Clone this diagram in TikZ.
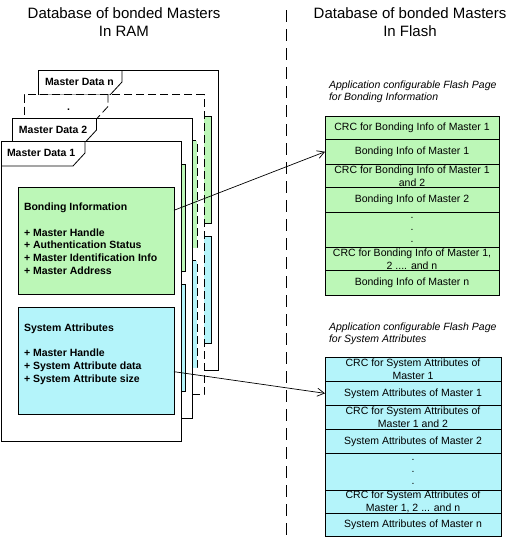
\documentclass[tikz,border=0pt]{standalone}
\usepackage{fontspec}
\setmainfont{Liberation Sans}
\usetikzlibrary{arrows.meta}
\definecolor{gfill}{RGB}{188,247,183}
\definecolor{cfill}{RGB}{180,244,250}
\newcommand\mdpage[6]{%
  \begin{scope}[shift={(#1,#2)},#3]
    \node[pagebox, anchor=north west] (#4) at (0,0) {};
    \draw (84,0) -- (84,12) -- (72,25) -- (0,25);
    \node[gbox, anchor=north west] (#4g) at (17,46) {};
    \node[cbox, anchor=north west] (#4c) at (17,166) {};
    \node[tablabel, anchor=base west] (#4l) at (#6,15.5) {#5};
  \end{scope}}
\begin{document}
\begin{tikzpicture}[x=1pt,y=-1pt,line width=0.8pt,
  every node/.style={inner sep=0pt,outer sep=0pt},
  pagebox/.style={draw,fill=white,minimum width=180pt,minimum height=300pt},
  gbox/.style={draw,fill=gfill,minimum width=156pt,minimum height=107pt},
  cbox/.style={draw,fill=cfill,minimum width=156pt,minimum height=107pt},
  tablabel/.style={font=\fontsize{10.5}{12.7}\selectfont\bfseries},
  boldtxt/.style={font=\fontsize{10.5}{12.7}\selectfont\bfseries,align=left},
  title/.style={font=\fontsize{15}{18}\selectfont,align=center},
  caption/.style={font=\fontsize{10.5}{12}\selectfont\itshape,align=left},
  grnrow/.style={draw,fill=gfill,minimum width=174pt,anchor=north west,align=center,font=\fontsize{10.5}{13}\selectfont},
  cyrow/.style={draw,fill=cfill,minimum width=176pt,anchor=north west,align=center,font=\fontsize{10.5}{13}\selectfont},
  dotrow/.style={font=\fontsize{10.5}{12}\selectfont},
  link/.style={line width=0.7pt,-{Straight Barb[length=7pt,width=8pt,line width=0.7pt]}},
  divider/.style={line width=0.8pt,dash pattern=on 12pt off 7pt},
  dashedpage/.style={dash pattern=on 8pt off 4pt}]
\useasboundingbox (0,0) rectangle (528,538);
% titles
\node[title,anchor=north] (tl) at (124,7.5) {Database of bonded Masters\\In RAM};
\node[title,anchor=north] (tr) at (410,7.5) {Database of bonded Masters\\In Flash};
% divider
\coordinate (divtop) at (286,10);
\coordinate (divbot) at (286,538);
\draw[divider] (divtop) -- (divbot);
% stacked pages
\mdpage{38}{70}{}{pn}{Master Data n}{7}
\mdpage{24}{94.5}{dashedpage}{pd}{.}{43}
\mdpage{12.5}{118}{}{ptwo}{Master Data 2}{6.5}
\mdpage{1}{141}{}{pone}{Master Data 1}{6}
% page 1 texts
\node[boldtxt,anchor=north west] (bondtxt) at (24,203.2) {Bonding Information\\[12.7pt]+ Master Handle\\+ Authentication Status\\+ Master Identification Info\\+ Master Address};
\node[boldtxt,anchor=north west] (systxt) at (24,324.2) {System Attributes\\[12.3pt]+ Master Handle\\+ System Attribute data\\+ System Attribute size};
% flash captions
\node[caption,anchor=north west] (gcap) at (329,81.3) {Application configurable Flash Page\\for Bonding Information};
\node[caption,anchor=north west] (ccap) at (329,323.3) {Application configurable Flash Page\\for System Attributes};
% green flash rows
\node[grnrow,minimum height=23.5pt] (g1) at (325,116) {CRC for Bonding Info of Master 1};
\node[grnrow,minimum height=24.5pt] (g2) at (325,139.5) {Bonding Info of Master 1};
\node[grnrow,minimum height=23.5pt] (g3) at (325,164) {CRC for Bonding Info of Master 1\\and 2};
\node[grnrow,minimum height=24.5pt] (g4) at (325,187.5) {Bonding Info of Master 2};
\node[grnrow,minimum height=35.5pt] (g5) at (325,212) {};
\node[dotrow,align=center] (g5d) at (g5.center) {.\\.\\.};
\node[grnrow,minimum height=23pt] (g6) at (325,247.5) {CRC for Bonding Info of Master 1,\\2 .... and n};
\node[grnrow,minimum height=24.5pt] (g7) at (325,270.5) {Bonding Info of Master n};
% cyan flash rows
\node[cyrow,minimum height=24.4pt] (c1) at (325,357.3) {CRC for System Attributes of\\Master 1};
\node[cyrow,minimum height=23.3pt] (c2) at (325,381.7) {System Attributes of Master 1};
\node[cyrow,minimum height=24.3pt] (c3) at (325,405) {CRC for System Attributes of\\Master 1 and 2};
\node[cyrow,minimum height=24pt] (c4) at (325,429.3) {System Attributes of Master 2};
\node[cyrow,minimum height=36.7pt] (c5) at (325,453.3) {};
\node[dotrow,align=center] (c5d) at (c5.center) {.\\.\\.};
\node[cyrow,minimum height=23.3pt] (c6) at (325,490) {CRC for System Attributes of\\Master 1, 2 ... and n};
\node[cyrow,minimum height=23.2pt] (c7) at (325,513.3) {System Attributes of Master n};
% links
\draw[link] (poneg) -- (g2.west);
\draw[link] (ponec) -- (c2.west);
\end{tikzpicture}
\end{document}
